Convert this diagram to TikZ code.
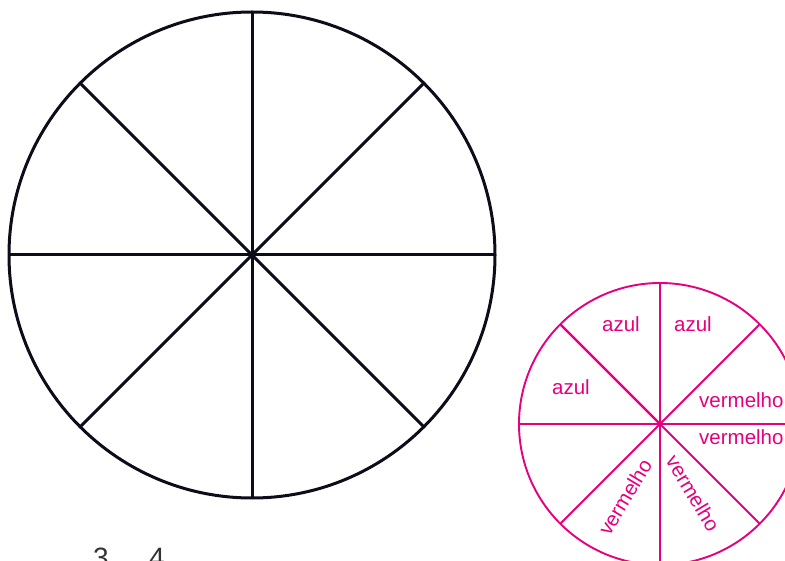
\documentclass[tikz,border=0pt]{standalone}
\usepackage{fontspec}
\setmainfont{Liberation Sans}
\definecolor{inkdark}{HTML}{0D0D1A}
\definecolor{spinpink}{HTML}{E6007E}
\definecolor{numgray}{HTML}{333333}
\begin{document}
\begin{tikzpicture}[x=1pt,y=-1pt,
  bigwheel/.style={draw=inkdark,line width=3pt},
  pinkwheel/.style={draw=spinpink,line width=1.9pt},
  lbl/.style={text=spinpink,font=\fontsize{20.5}{22}\selectfont,inner sep=0pt},
  numlbl/.style={text=numgray,font=\fontsize{28}{30}\selectfont,inner sep=0pt}]
\useasboundingbox (0,0) rectangle (785,561);
\clip (0,0) rectangle (785,561);
% big wheel
\coordinate (bc) at (252,255);
\draw[bigwheel] (bc) circle[radius=243];
\foreach \a in {0,45,...,315}{
  \draw[bigwheel] (bc) -- ++(\a:243);
}
% pink wheel
\coordinate (pc) at (660,424);
\draw[pinkwheel] (pc) circle[radius=141];
\foreach \a in {0,45,...,315}{
  \draw[pinkwheel] (pc) -- ++(\a:141);
}
\draw[pinkwheel,line width=2.4pt] (pc) -- ++(225:141);
% labels
\node[lbl,anchor=base] (a1) at (621,332) {azul};
\node[lbl,anchor=base] (a2) at (693,332) {azul};
\node[lbl,anchor=base] (a3) at (571,395) {azul};
\node[lbl,anchor=base west] (v1) at (699,407) {vermelho};
\node[lbl,anchor=base west] (v2) at (699,445) {vermelho};
\node[lbl,rotate=59] (v3) at (625,497) {vermelho};
\node[lbl,rotate=-59] (v4) at (693,493) {vermelho};
% numbers
\node[numlbl] (n3) at (101,558) {3};
\node[numlbl] (n4) at (157,558) {4};
\end{tikzpicture}
\end{document}
